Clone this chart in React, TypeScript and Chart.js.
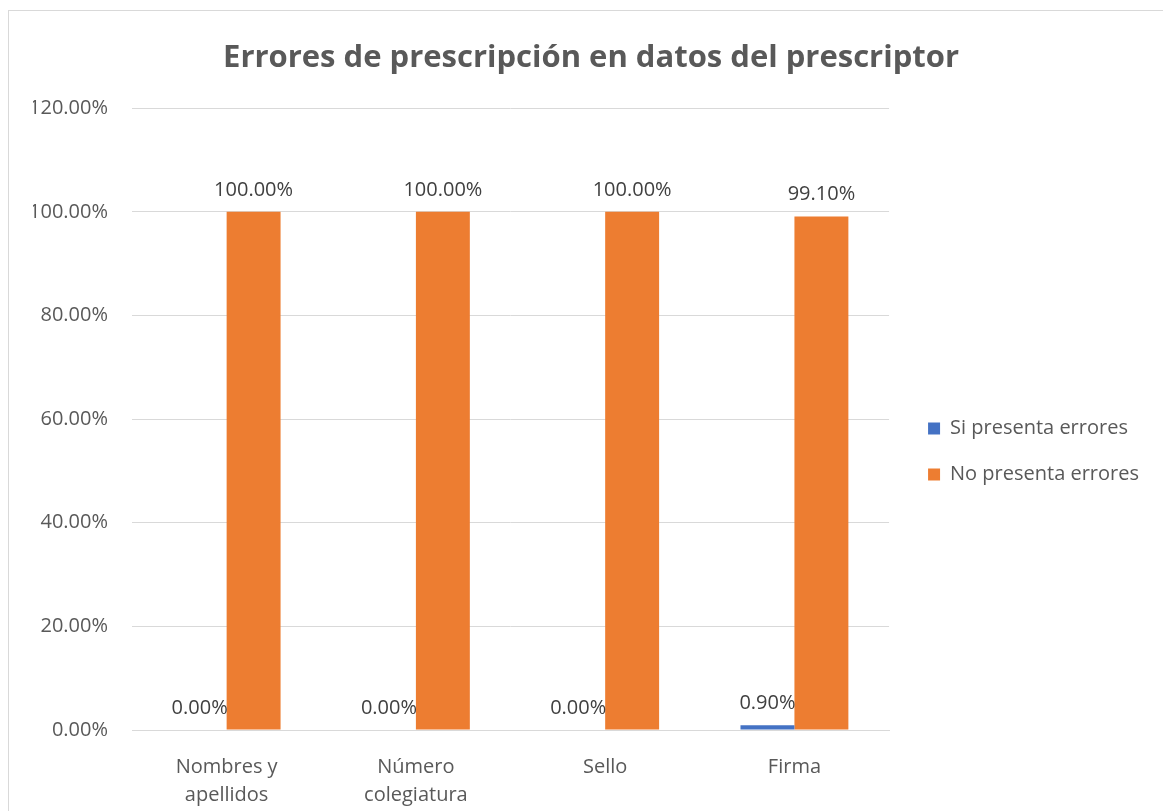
import React, { useEffect, useRef } from "react";
import { Chart, registerables } from "chart.js";

Chart.register(...registerables);

const categories: (string | string[])[] = [["Nombres y", "apellidos"], ["Número", "colegiatura"], "Sello", "Firma"];
const siPresenta = [0, 0, 0, 0.9];
const noPresenta = [100, 100, 100, 99.1];
const seriesNames = ["Si presenta errores", "No presenta errores"];
const seriesColors = ["#4472C4", "#ED7D31"];
const titleText = "Errores de prescripción en datos del prescriptor";

const FONT = "'Open Sans', 'Noto Sans', sans-serif";

const dataLabels = {
  id: "dataLabels",
  afterDatasetsDraw(chart: any) {
    const ctx = chart.ctx;
    ctx.save();
    ctx.font = `20px ${FONT}`;
    ctx.fillStyle = "#404040";
    ctx.textAlign = "center";
    ctx.textBaseline = "bottom";
    chart.data.datasets.forEach((ds: any, i: number) => {
      const meta = chart.getDatasetMeta(i);
      meta.data.forEach((el: any, j: number) => {
        ctx.fillText(ds.data[j].toFixed(2) + "%", el.x, el.y - 12);
      });
    });
    ctx.restore();
  },
};

export default function App() {
  const ref = useRef<HTMLCanvasElement>(null);
  useEffect(() => {
    if (!ref.current) return;
    const chart = new Chart(ref.current, {
      type: "bar",
      data: {
        labels: categories as any,
        datasets: [
          { label: seriesNames[0], data: siPresenta, backgroundColor: seriesColors[0], categoryPercentage: 0.57, barPercentage: 1 },
          { label: seriesNames[1], data: noPresenta, backgroundColor: seriesColors[1], categoryPercentage: 0.57, barPercentage: 1 },
        ],
      },
      options: {
        responsive: false,
        animation: false,
        layout: { padding: { top: 0, right: 14, bottom: 0, left: 24 } },
        plugins: {
          title: {
            display: true,
            text: titleText,
            color: "#595959",
            font: { family: FONT, size: 31, weight: "bold" },
            padding: { top: 29, bottom: 31 },
          },
          legend: {
            position: "right",
            maxWidth: 300,
            title: {
              display: true,
              text: " ",
              font: { family: FONT, size: 20 },
              padding: { top: 22, bottom: 22 },
            },
            labels: {
              boxWidth: 12,
              boxHeight: 12,
              padding: 26,
              color: "#595959",
              font: { family: FONT, size: 20 },
            },
          },
          tooltip: { enabled: false },
        },
        scales: {
          x: {
            grid: { display: false },
            border: { color: "#d9d9d9" },
            ticks: { color: "#595959", font: { family: FONT, size: 20, lineHeight: 1.4 }, padding: 15 },
          },
          y: {
            min: 0,
            max: 120,
            ticks: {
              stepSize: 20,
              color: "#595959",
              font: { family: FONT, size: 20 },
              padding: 24,
              callback: (v: any) => Number(v).toFixed(2) + "%",
            },
            grid: { color: "#d9d9d9", drawTicks: false },
            border: { display: false },
            afterFit: (s: any) => { s.width = 99; },
          },
          spacer: {
            position: "right",
            display: true,
            grid: { display: false, drawTicks: false },
            border: { display: false },
            ticks: { display: false },
            afterFit: (s: any) => { s.width = 13; },
          },
        },
      },
      plugins: [dataLabels],
    });
    return () => chart.destroy();
  }, []);
  return (
    <div
      style={{
        position: "fixed",
        left: 8,
        top: 10,
        width: 1160,
        height: 820,
        overflow: "hidden",
        borderLeft: "1px solid #d9d9d9",
        borderTop: "1px solid #d9d9d9",
        background: "#fff",
      }}
    >
      <canvas ref={ref} width={1154} height={813} style={{ display: "block" }} />
    </div>
  );
}
